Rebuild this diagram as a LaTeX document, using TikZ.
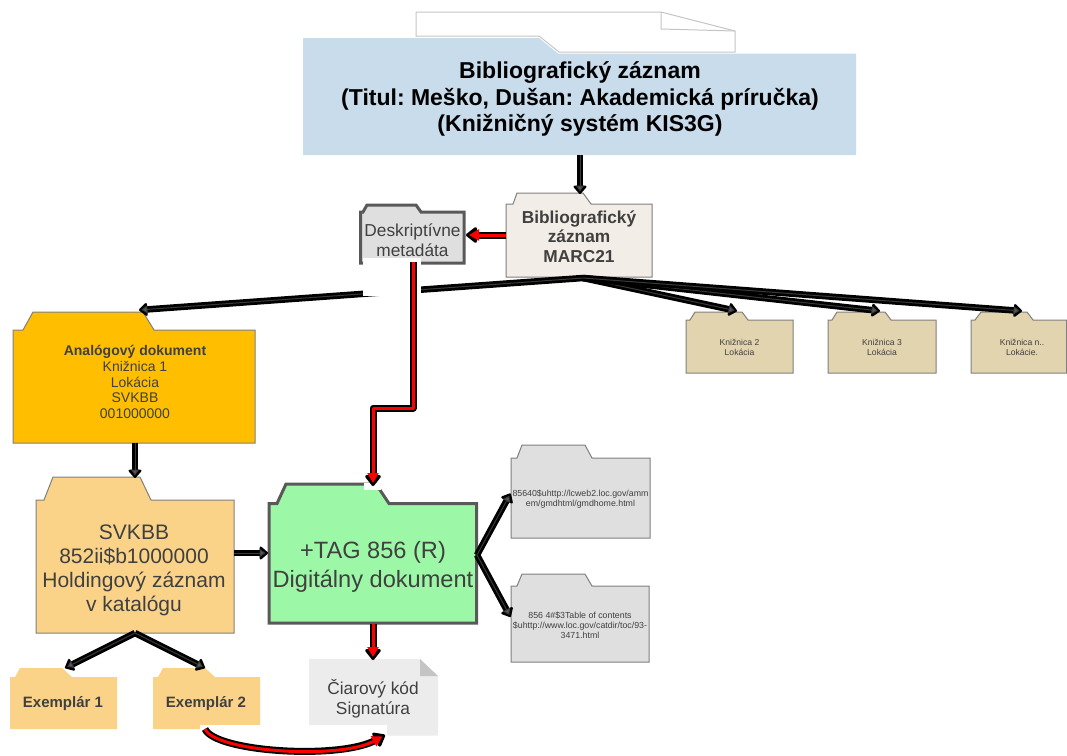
\documentclass[tikz,border=0pt]{standalone}
\usepackage{fontspec}
\setmainfont{Liberation Sans}
\frenchspacing
\usetikzlibrary{arrows.meta}
\definecolor{txt}{HTML}{404040}
\definecolor{blue1}{HTML}{C8DCEB}
\definecolor{edgeg}{HTML}{7F7F7F}
\definecolor{edged}{HTML}{595959}
\definecolor{linein}{HTML}{3A3A3A}
\definecolor{creamf}{HTML}{F2EDE6}
\definecolor{greyf}{HTML}{DFDFDF}
\definecolor{amber}{HTML}{FFBF00}
\definecolor{peach}{HTML}{FAD388}
\definecolor{mint}{HTML}{9CF7A6}
\definecolor{tan1}{HTML}{E2D4AE}
\definecolor{notef}{HTML}{ECECEC}
\definecolor{foldf}{HTML}{C4C4C4}
\tikzset{
  thinfolder/.style={draw=edgeg,line width=1pt,line join=miter},
  fatfolder/.style={draw=edged,line width=3pt,line join=miter},
  nofolder/.style={draw=none},
  lbl/.style={align=center,inner sep=0pt,text=txt},
  lineout/.style={draw=black,line width=6.5pt,line join=round,-{Triangle[round,length=9pt,width=15pt,line width=3.5pt,fill=black]}},
  lineingrey/.style={draw=linein,line width=1pt,line join=round,shorten >=2.5pt,-{Triangle[length=6pt,width=8pt,fill=edged]}},
  redout/.style={draw=black,line width=7pt,line join=round,-{Triangle[round,length=12pt,width=18pt,line width=3.5pt,fill=black]}},
  redin/.style={draw=red,line width=3pt,line join=round,shorten >=3pt,-{Triangle[length=10pt,width=11pt,fill=red]}},
}
\newcommand\folderbox[8]{%
  \path[#2,fill=#3] (#4,#6) -- #8 -- (#5,#6) -- (#5,#7) -- (#4,#7) -- cycle;
  \coordinate (#1) at (#4,#7);}
\newcommand\blackflow[1]{\draw[lineout] #1; \draw[lineingrey] #1;}
\newcommand\redflow[1]{\draw[redout] #1; \draw[redin] #1;}
\begin{document}
\begin{tikzpicture}[x=1pt,y=-1pt]
\useasboundingbox (0,0) rectangle (1067,755);
% back sheet
\draw[draw=foldf,line width=1pt] (416,36) -- (416,12) -- (661,12) -- (735,31) -- (735,52) -- (559,52) -- (539,36) -- cycle;
\draw[draw=foldf,line width=1pt] (661,12) -- (661,29) -- (735,31);
% title
\fill[blue1] (303,38) -- (539,38) -- (558,53.5) -- (856,53.5) -- (856,155) -- (303,155) -- cycle;
\node[align=center,inner sep=0pt,font=\bfseries\fontsize{23}{26.5}\selectfont] (title) at (580,99) {Bibliografický záznam\\(Titul: Meško, Dušan: Akademická príručka)\\(Knižničný systém KIS3G)};
% folders
\folderbox{marcf}{thinfolder}{creamf}{506}{652}{204}{277}{(506,204) -- (513,204) -- (517,193) -- (583,193) -- (591,204)}
\node[lbl,font=\bfseries\fontsize{17.3}{19.5}\selectfont] (marc) at (579,236.5) {Bibliografický\\záznam\\MARC21};
\folderbox{descf}{fatfolder}{greyf}{360.5}{464}{212}{263}{(360.5,212) -- (363,212) -- (367,205) -- (416,205) -- (421,212)}
\node[lbl,font=\fontsize{17.3}{20}\selectfont] (desc) at (412.5,240.5) {Deskriptívne\\metadáta};
\folderbox{analogf}{thinfolder}{amber}{13}{255}{330}{443}{(13,330) -- (23,330) -- (33,312) -- (143,312) -- (154,330)}
\node[lbl,font=\fontsize{14}{15.6}\selectfont] (analog) at (135,382) {\textbf{Analógový dokument}\\Knižnica 1\\Lokácia\\SVKBB\\001000000};
\folderbox{holdf}{thinfolder}{peach}{36}{234}{500}{633}{(36,500) -- (44,500) -- (53,477) -- (140,477) -- (151,500)}
\node[lbl,font=\fontsize{21}{24}\selectfont] (hold) at (134,570) {SVKBB\\852ii\$b1000000\\Holdingový záznam\\v katalógu};
\folderbox{digif}{fatfolder}{mint}{269}{476.5}{503.5}{623}{(269,503.5) -- (277,503.5) -- (286,484) -- (376,484) -- (389,503.5)}
\node[lbl,font=\fontsize{23.6}{28.5}\selectfont] (digi) at (373,567) {+TAG 856 (R)\\Digitálny dokument};
\folderbox{k2f}{thinfolder}{tan1}{686}{793}{320}{373}{(686,320) -- (690,320) -- (695,312) -- (742,312) -- (748,320)}
\node[lbl,font=\fontsize{8.6}{9.5}\selectfont] (k2) at (739.5,347.5) {Knižnica 2\\Lokácia};
\folderbox{k3f}{thinfolder}{tan1}{828}{936}{320}{373}{(828,320) -- (832,320) -- (837,312) -- (885,312) -- (891,320)}
\node[lbl,font=\fontsize{8.6}{9.5}\selectfont] (k3) at (882,347.5) {Knižnica 3\\Lokácia};
\folderbox{knf}{thinfolder}{tan1}{971}{1066.5}{320}{373}{(971,320) -- (975,320) -- (981,312) -- (1027,312) -- (1033,320)}
\node[lbl,font=\fontsize{8.6}{9.5}\selectfont] (kn) at (1022,347.5) {Knižnica n..\\Lokácie.};
\folderbox{url1f}{thinfolder}{greyf}{511}{650}{458}{538}{(511,458) -- (517,458) -- (522,445) -- (585,445) -- (592,458)}
\node[lbl,font=\fontsize{8.8}{10}\selectfont] (url1) at (580.5,499) {85640\$uhttp://lcweb2.loc.gov/amm\\em/gmdhtml/gmdhome.html};
\folderbox{url2f}{thinfolder}{greyf}{511}{649}{586}{662}{(511,586) -- (517,586) -- (522,574) -- (585,574) -- (592,586)}
\node[lbl,font=\fontsize{8.8}{10}\selectfont] (url2) at (580,625) {856 4\#\$3Table of contents\\\$uhttp://www.loc.gov/catdir/toc/93-\\3471.html};
\folderbox{ex1f}{nofolder}{peach}{10}{117}{677}{729}{(10,677) -- (15,677) -- (20,668) -- (62,668) -- (72,677)}
\node[lbl,font=\bfseries\fontsize{15}{17}\selectfont] (ex1) at (63,704) {Exemplár 1};
\folderbox{ex2f}{nofolder}{peach}{153}{260}{677}{729}{(153,677) -- (158,677) -- (163,668) -- (205,668) -- (215,677)}
\node[lbl,font=\bfseries\fontsize{15}{17}\selectfont] (ex2) at (206,704) {Exemplár 2};
% note
\fill[notef] (309,659) -- (420,659) -- (438,676) -- (438,735.5) -- (309,735.5) -- cycle;
\fill[foldf] (420,659) -- (420,676) -- (438,676) -- cycle;
\node[lbl,font=\fontsize{17.3}{20}\selectfont] (note) at (373,699) {Čiarový kód\\Signatúra};
% ports
\coordinate (pTitle) at (580,155);
\coordinate (pMarcTop) at (580,194);
\coordinate (pMarcB) at (583,278);
\coordinate (pAnalogT) at (139,310);
\coordinate (pK2) at (737,311);
\coordinate (pK3) at (880,311);
\coordinate (pKn) at (1022,311);
\coordinate (pAnalogB) at (135,443);
\coordinate (pHoldT) at (135,478);
\coordinate (pHoldR) at (234,553);
\coordinate (pDigiL) at (268,553);
\coordinate (pHoldB) at (135,633);
\coordinate (pEx1) at (65,668);
\coordinate (pEx2) at (205,668);
\coordinate (pDigiR) at (477,555);
\coordinate (pUrl1) at (510.5,493.5);
\coordinate (pUrl2) at (510.5,617);
% black connectors
\blackflow{(pTitle) -- (pMarcTop)}
\blackflow{(pMarcB) -- (pK2)}
\blackflow{(pMarcB) -- (pK3)}
\blackflow{(pMarcB) -- (pKn)}
\blackflow{(pMarcB) -- (pAnalogT)}
\blackflow{(pAnalogB) -- (pHoldT)}
\blackflow{(pHoldR) -- (pDigiL)}
\blackflow{(pHoldB) -- (pEx1)}
\blackflow{(pHoldB) -- (pEx2)}
\blackflow{(pDigiR) -- (pUrl1)}
\blackflow{(pDigiR) -- (pUrl2)}
% white patches
\fill[white] (363,258) rectangle (421,296);
\fill[white] (364,483) rectangle (381,490);
\fill[white] (200,725) rectangle (387,755);
% red connectors
\coordinate (pMarcL) at (506,235);
\coordinate (pDescR) at (466,235);
\coordinate (pDescB) at (413,262);
\coordinate (pBend1) at (413,408);
\coordinate (pBend2) at (373,408);
\coordinate (pDigiT) at (373,486);
\coordinate (pDigiB) at (373,624);
\coordinate (pNoteT) at (373,660);
\coordinate (pEx2B) at (205,729);
\coordinate (pNoteB) at (385,735);
\redflow{(pMarcL) -- (pDescR)}
\redflow{(pDescB) -- (pBend1) -- (pBend2) -- (pDigiT)}
\redflow{(pDigiB) -- (pNoteT)}
\redflow{(pEx2B) .. controls (215,752) and (340,760) .. (pNoteB)}
\end{tikzpicture}
\end{document}
